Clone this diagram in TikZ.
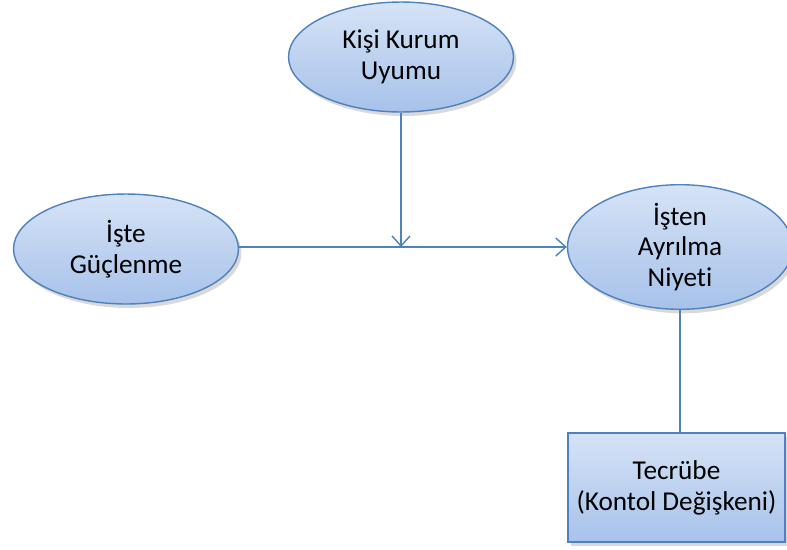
\documentclass[tikz,border=0pt]{standalone}
\usepackage{fontspec}
\setmainfont{Carlito}[Ligatures=NoCommon]
\usetikzlibrary{shapes.geometric,shadows,arrows.meta}

\definecolor{boxline}{HTML}{4F81BD}
\definecolor{boxtop}{HTML}{D5E3F6}
\definecolor{boxbot}{HTML}{A7C2EA}
\tikzset{
  oval/.style={ellipse,draw=boxline,line width=0.8pt,top color=boxtop,bottom color=boxbot,
    drop shadow={shadow xshift=0.6mm,shadow yshift=-0.8mm,opacity=0.3},
    minimum width=4.5cm,minimum height=2.2cm,inner sep=0pt,align=center,
    font=\fontsize{15.5}{17.5}\selectfont},
  kutu/.style={rectangle,draw=boxline,line width=0.8pt,top color=boxtop,bottom color=boxbot,
    drop shadow={shadow xshift=0.6mm,shadow yshift=-0.8mm,opacity=0.3},
    minimum width=4.34cm,minimum height=2.18cm,inner sep=0pt,align=center,
    font=\fontsize{15.5}{17.5}\selectfont},
  ok/.style={draw=boxline,line width=0.8pt}
}

\begin{document}
\begin{tikzpicture}[x=0.02cm,y=-0.02cm,>={Straight Barb[length=2mm,width=3.6mm]}]
			\useasboundingbox (0,0) rectangle (787,549);
			\node[oval] (uyum) at (401,57) {Kişi Kurum\\Uyumu};
			\node[oval] (guc) at (126,249) {İşte\\Güçlenme};
			\node[oval] (niyet) at (680,247) {İşten\\Ayrılma\\Niyeti};
			\node[kutu] (tecrube) at (676.5,487.5) {Tecrübe\\(Kontol Değişkeni)};
			\coordinate (kesis) at (uyum.south |- niyet.west);
			\draw[ok,->] (guc.east |- niyet.west) -- (niyet.west);
			\draw[ok,->] (uyum.south) -- (kesis);
			\draw[ok] (niyet.south) -- (niyet.south |- tecrube.north);
		\end{tikzpicture}
\end{document}
